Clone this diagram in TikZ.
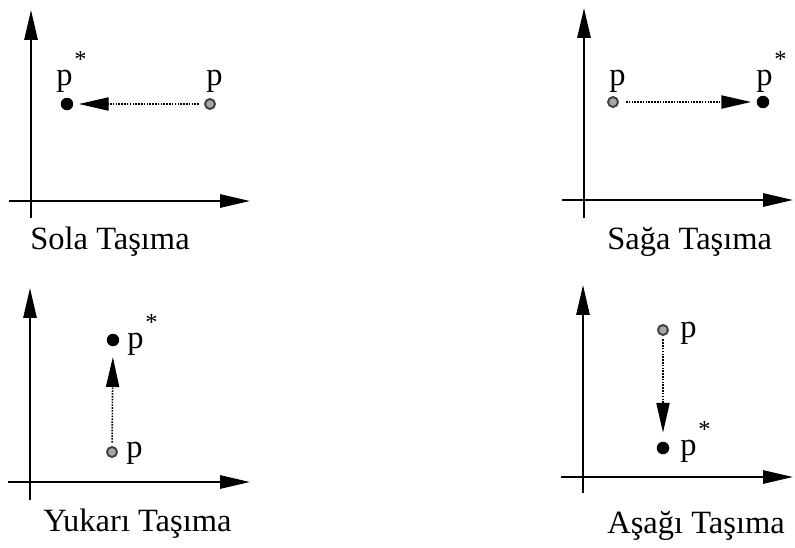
\documentclass[tikz,border=0pt]{standalone}
\usepackage{fontspec}
\setmainfont{Liberation Serif}
\usetikzlibrary{arrows.meta}
\newcommand{\pstar}{p\kern1pt\raisebox{10pt}{\fontsize{14}{14}\selectfont *}}
\tikzset{
  axis/.style={line width=1.2pt, -{Triangle[length=17pt, width=7.5pt]}},
  move/.style={line width=0.9pt, dash pattern=on 0.9pt off 0.7pt, -{Triangle[length=17pt, width=7.5pt]}},
  olddot/.style={circle, draw=black!75, fill=black!35, line width=1.1pt, inner sep=0pt, minimum size=0.2cm},
  newdot/.style={circle, fill=black, inner sep=0pt, minimum size=0.25cm},
  plabel/.style={font=\fontsize{18.5}{20}\selectfont, inner sep=0pt, anchor=base west},
  caption/.style={font=\fontsize{18.5}{20}\selectfont, inner sep=0pt, anchor=base west}
}
\begin{document}
\begin{tikzpicture}[x=0.02cm, y=-0.02cm]
  \useasboundingbox (0,0) rectangle (795,548);

  % axes of the four panels
  \foreach \ox/\oy/\top/\bot/\right/\n in {31/201/10/218/250/a, 584/200/8/218/793/b, 30/482/288/500/250/c, 583/477/285/493/793/d} {
    \coordinate (ybot\n) at (\ox,\bot);
    \coordinate (ytop\n) at (\ox,\top);
    \coordinate (xleft\n) at (\ox-22,\oy);
    \coordinate (xright\n) at (\right,\oy);
    \draw[axis] (ybot\n) -- (ytop\n);
    \draw[axis] (xleft\n) -- (xright\n);
  }

  % sola
  \node[olddot] (pa) at (210,104) {};
  \node[newdot] (sa) at (67,104) {};
  \node[plabel] (pla) at (206,85) {p};
  \node[plabel] (sla) at (56,85) {\pstar};
  \draw[move, shorten <=3pt, shorten >=3pt] (pa) -- (sa);
  \node[caption] (capa) at (30,249) {Sola Taşıma};

  % saga
  \node[olddot] (pb) at (613,102) {};
  \node[newdot] (sb) at (763,102) {};
  \node[plabel] (plb) at (609,85) {p};
  \node[plabel] (slb) at (756,85) {\pstar};
  \draw[move, shorten <=4pt, shorten >=3pt] (pb) -- (sb);
  \node[caption] (capb) at (607,249) {Sağa Taşıma};

  % yukari
  \node[olddot] (pc) at (112,452) {};
  \node[newdot] (sc) at (113,340) {};
  \node[plabel] (plc) at (126,457) {p};
  \node[plabel] (slc) at (127,348) {\pstar};
  \draw[move, shorten <=2pt, shorten >=6pt] (pc) -- (sc);
  \node[caption] (capc) at (43,531) {Yukarı Taşıma};

  % asagi
  \node[olddot] (pd) at (663,330) {};
  \node[newdot] (sd) at (663,448) {};
  \node[plabel] (pld) at (680,337) {p};
  \node[plabel] (sld) at (680,455) {\pstar};
  \draw[move, shorten <=2pt, shorten >=5pt] (pd) -- (sd);
  \node[caption] (capd) at (607,533) {Aşağı Taşıma};
\end{tikzpicture}
\end{document}
